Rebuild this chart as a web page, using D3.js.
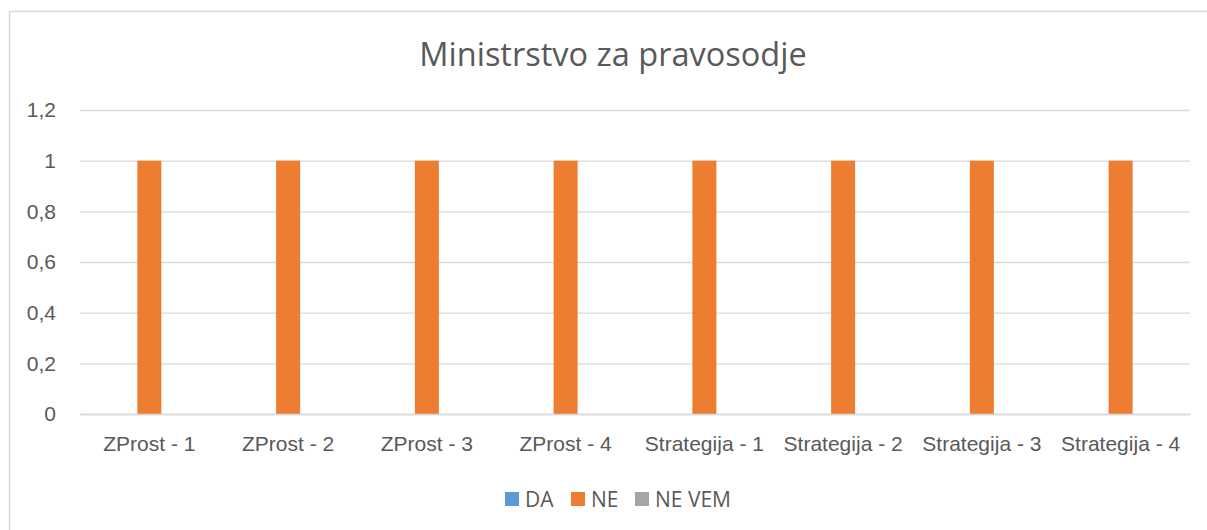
<!DOCTYPE html>
<html>
<head>
<meta charset="utf-8">
<script src="https://cdn.jsdelivr.net/npm/d3@7"></script>
<style>
  body { margin: 0; background: #fff; }
  svg { font-family: "Open Sans", sans-serif; }
</style>
</head>
<body>
<div class="chart"></div>
<script>
// data
const categories = ['ZProst - 1', 'ZProst - 2', 'ZProst - 3', 'ZProst - 4',
    'Strategija - 1', 'Strategija - 2', 'Strategija - 3', 'Strategija - 4']
const seriesNames = ['DA', 'NE', 'NE VEM']
const daValues = [0, 0, 0, 0, 0, 0, 0, 0]
const neValues = [1, 1, 1, 1, 1, 1, 1, 1]
const neVemValues = [0, 0, 0, 0, 0, 0, 0, 0]
const yTicks = [0, 0.2, 0.4, 0.6, 0.8, 1, 1.2]
const colors = ['#5B9BD5', '#ED7D31', '#A5A5A5']

const seriesValues = [daValues, neValues, neVemValues]
const rows = categories.map((c, i) => ({
    label: c,
    values: seriesNames.map((s, j) => ({ key: s, value: seriesValues[j][i] }))
}))

function renderChart() {
    var width = 1207
    var height = 530
    var plot = { left: 80, right: 1190, top: 110, bottom: 414 }

    var svg = d3.select('.chart').append('svg')
        .attr('width', width)
        .attr('height', height)

    // chart frame
    svg.append('path')
        .attr('d', `M9.5,${height} V11.5 H${width}`)
        .attr('fill', 'none')
        .attr('stroke', '#d9d9d9')
        .attr('stroke-width', 1.5)

    svg.append('text')
        .attr('x', 613)
        .attr('y', 66)
        .attr('text-anchor', 'middle')
        .style('font-size', '32.5px')
        .style('fill', '#595959')
        .text('Ministrstvo za pravosodje')

    var x0 = d3.scaleBand()
        .range([plot.left, plot.right])
        .domain(categories)

    var bw = x0.bandwidth()
    var x1 = d3.scaleBand()
        .domain(seriesNames)
        .range([bw * 0.2405, bw * 0.7595])

    var yScale = d3.scaleLinear()
        .range([plot.bottom, plot.top])
        .domain([0, 1.2])

    // gridlines + y labels
    const yAxis = d3.axisLeft(yScale)
        .tickValues(yTicks)
        .tickSize(-(plot.right - plot.left))
        .tickPadding(24)
        .tickFormat((d) => d3.format('~g')(d).replace('.', ','))

    const yg = svg.append('g')
        .attr('transform', `translate(${plot.left}, 0)`)
        .call(yAxis)
    yg.select('.domain').remove()
    yg.selectAll('.tick line').attr('stroke', '#d9d9d9').attr('stroke-width', 1.3)
    yg.selectAll('.tick text')
        .style('font-size', '21px')
        .style('fill', '#595959')
        .attr('font-family', null)

    // bars
    const groups = svg.append('g').selectAll('g')
        .data(rows)
        .join('g')
        .attr('transform', (d) => `translate(${x0(d.label)}, 0)`)

    groups.selectAll('rect')
        .data((d) => d.values)
        .join('rect')
        .attr('x', (d) => x1(d.key))
        .attr('width', x1.bandwidth())
        .attr('y', (d) => yScale(d.value))
        .attr('height', (d) => yScale(0) - yScale(d.value))
        .attr('fill', (d, i) => colors[i])

    // x axis
    const xAxis = d3.axisBottom(x0).tickSize(0).tickPadding(22)
    const xg = svg.append('g')
        .attr('transform', `translate(0, ${plot.bottom})`)
        .call(xAxis)
    xg.select('.domain').attr('stroke', '#d9d9d9').attr('stroke-width', 1.3)
    xg.selectAll('.tick text')
        .style('font-size', '21px')
        .style('fill', '#595959')
        .attr('font-family', null)

    // legend
    const legendX = [505, 571, 635]
    const legend = svg.append('g').selectAll('g')
        .data(seriesNames)
        .join('g')
        .attr('transform', (d, i) => `translate(${legendX[i]}, 492)`)
    legend.append('rect')
        .attr('width', 14)
        .attr('height', 14)
        .attr('fill', (d, i) => colors[i])
    legend.append('text')
        .attr('x', 20)
        .attr('y', 15)
        .style('font-size', '21px')
        .style('fill', '#595959')
        .text((d) => d)
}

renderChart()
</script>
</body>
</html>
